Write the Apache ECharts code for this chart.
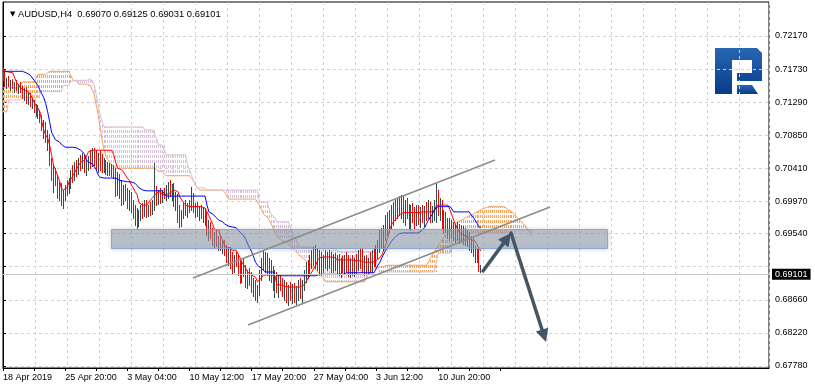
<!DOCTYPE html>
<html><head><meta charset="utf-8">
<script src="https://cdn.jsdelivr.net/npm/echarts@6/dist/echarts.min.js"></script>
<style>html,body{margin:0;padding:0;background:#fff}#c{width:815px;height:390px}</style>
</head><body><div id="c"></div>
<script>
const symbol = 'AUDUSD', timeframe = 'H4';
const xLabels = ['18 Apr 2019','25 Apr 20:00','3 May 04:00','10 May 12:00','17 May 20:00','27 May 04:00','3 Jun 12:00','10 Jun 20:00'];
const labelStep = 32, tickStep = 16;
const yTicks = [0.6778,0.6822,0.6866,0.6910,0.6954,0.6997,0.7041,0.7085,0.7129,0.7173,0.7217];

const opens = [0.7166,
0.7164,0.7153,0.7158,0.7152,0.7156,0.7151,0.7153,0.7148,0.7151,0.7145,
0.7139,0.7145,0.7132,0.7137,0.7127,0.7129,0.7119,0.7123,0.7111,0.7108,
0.7095,0.7100,0.7079,0.7085,0.7049,0.7032,0.7039,0.7023,0.7012,0.7017,
0.6999,0.7007,0.7015,0.7010,0.7023,0.7032,0.7028,0.7041,0.7039,0.7049,
0.7045,0.7055,0.7041,0.7045,0.7052,0.7047,0.7063,0.7052,0.7044,0.7055,
0.7045,0.7041,0.7049,0.7039,0.7045,0.7037,0.7043,0.7035,0.7010,0.7031,
0.7007,0.6999,0.7015,0.7004,0.6992,0.7006,0.6988,0.6980,0.6986,0.6967,
0.6980,0.6988,0.6980,0.6994,0.6983,0.6988,0.6983,0.6994,0.7006,0.6999,
0.7008,0.7002,0.7007,0.7004,0.7012,0.7017,0.7010,0.7015,0.6996,0.7004,
0.6975,0.6970,0.6980,0.6990,0.6983,0.6991,0.6988,0.7006,0.6988,0.6991,
0.6983,0.6986,0.6980,0.6983,0.6970,0.6956,0.6966,0.6954,0.6946,0.6951,
0.6943,0.6946,0.6938,0.6940,0.6930,0.6922,0.6930,0.6912,0.6906,0.6922,
0.6916,0.6903,0.6892,0.6911,0.6903,0.6887,0.6898,0.6892,0.6882,0.6888,
0.6871,0.6877,0.6900,0.6916,0.6911,0.6924,0.6906,0.6912,0.6895,0.6884,
0.6892,0.6882,0.6890,0.6884,0.6877,0.6886,0.6869,0.6879,0.6871,0.6882,
0.6869,0.6877,0.6887,0.6874,0.6884,0.6900,0.6911,0.6903,0.6919,0.6927,
0.6916,0.6932,0.6911,0.6922,0.6906,0.6919,0.6914,0.6924,0.6916,0.6908,
0.6922,0.6912,0.6919,0.6906,0.6916,0.6908,0.6922,0.6908,0.6903,0.6916,
0.6906,0.6916,0.6908,0.6926,0.6914,0.6908,0.6919,0.6906,0.6916,0.6908,
0.6924,0.6916,0.6932,0.6940,0.6951,0.6940,0.6959,0.6972,0.6959,0.6979,
0.6970,0.6990,0.6978,0.6996,0.6983,0.6999,0.6975,0.6992,0.6980,0.6967,
0.6986,0.6975,0.6970,0.6986,0.6972,0.6983,0.6975,0.6986,0.6980,0.6994,
0.6975,0.6986,0.6992,0.7010,0.6986,0.6994,0.6967,0.6975,0.6962,0.6967,
0.6952,0.6964,0.6951,0.6962,0.6951,0.6959,0.6948,0.6956,0.6946,0.6951,
0.6938,0.6946,0.6930,0.6932,0.6919,
0.69070];

const highs = [
0.7174,0.7169,0.7161,0.7164,0.7158,0.7160,0.7156,0.7158,0.7153,0.7156,
0.7151,0.7148,0.7149,0.7143,0.7141,0.7135,0.7132,0.7127,0.7125,0.7119,
0.7112,0.7105,0.7103,0.7092,0.7087,0.7055,0.7045,0.7041,0.7032,0.7023,
0.7021,0.7012,0.7019,0.7025,0.7028,0.7039,0.7045,0.7049,0.7052,0.7055,
0.7059,0.7061,0.7059,0.7052,0.7057,0.7065,0.7068,0.7068,0.7065,0.7061,
0.7065,0.7060,0.7055,0.7052,0.7049,0.7048,0.7047,0.7045,0.7041,0.7036,
0.7033,0.7025,0.7019,0.7020,0.7015,0.7012,0.7010,0.6999,0.6992,0.6988,
0.6986,0.6992,0.6995,0.6999,0.6999,0.6992,0.6996,0.6999,0.7048,0.7017,
0.7012,0.7015,0.7012,0.7015,0.7019,0.7023,0.7025,0.7020,0.7021,0.7010,
0.7007,0.6992,0.6986,0.6995,0.6999,0.6995,0.6999,0.7016,0.7008,0.6995,
0.6996,0.6991,0.6992,0.6988,0.6988,0.6983,0.6972,0.6970,0.6962,0.6956,
0.6959,0.6951,0.6952,0.6946,0.6946,0.6939,0.6935,0.6936,0.6930,0.6926,
0.6930,0.6926,0.6919,0.6916,0.6922,0.6912,0.6906,0.6908,0.6903,0.6895,
0.6892,0.6886,0.6906,0.6922,0.6932,0.6930,0.6928,0.6922,0.6919,0.6911,
0.6906,0.6903,0.6899,0.6900,0.6895,0.6892,0.6890,0.6886,0.6890,0.6887,
0.6888,0.6884,0.6892,0.6895,0.6892,0.6906,0.6916,0.6919,0.6926,0.6932,
0.6936,0.6939,0.6935,0.6932,0.6930,0.6926,0.6932,0.6930,0.6932,0.6930,
0.6927,0.6928,0.6926,0.6927,0.6922,0.6924,0.6926,0.6930,0.6926,0.6922,
0.6926,0.6922,0.6927,0.6932,0.6935,0.6935,0.6924,0.6926,0.6922,0.6930,
0.6932,0.6935,0.6939,0.6946,0.6959,0.6962,0.6966,0.6979,0.6983,0.6986,
0.6992,0.6996,0.6999,0.7002,0.7004,0.7006,0.7004,0.6999,0.7002,0.6994,
0.6992,0.6995,0.6990,0.6992,0.6992,0.6990,0.6992,0.6991,0.6996,0.6999,
0.6996,0.6991,0.6999,0.7021,0.7012,0.7002,0.6999,0.6986,0.6983,0.6975,
0.6975,0.6972,0.6970,0.6967,0.6970,0.6967,0.6966,0.6964,0.6962,0.6959,
0.6956,0.6951,0.6948,0.6938,0.6935,0.6934,0.69125];

const lows = [
0.7158,0.7151,0.7148,0.7151,0.7145,0.7148,0.7143,0.7145,0.7141,0.7143,
0.7135,0.7132,0.7128,0.7127,0.7124,0.7121,0.7116,0.7111,0.7108,0.7103,
0.7092,0.7081,0.7076,0.7065,0.7045,0.7025,0.7010,0.7019,0.7002,0.6999,
0.6992,0.6988,0.6999,0.7006,0.7008,0.7015,0.7023,0.7025,0.7031,0.7033,
0.7039,0.7041,0.7036,0.7032,0.7039,0.7041,0.7044,0.7045,0.7039,0.7036,
0.7039,0.7036,0.7036,0.7033,0.7032,0.7032,0.7031,0.7028,0.7004,0.7006,
0.7002,0.6992,0.6994,0.6999,0.6988,0.6986,0.6983,0.6975,0.6966,0.6962,
0.6964,0.6972,0.6975,0.6978,0.6976,0.6978,0.6979,0.6980,0.6986,0.6992,
0.6994,0.6995,0.6996,0.7002,0.6999,0.7002,0.7004,0.6999,0.6991,0.6986,
0.6970,0.6963,0.6964,0.6975,0.6979,0.6976,0.6983,0.6986,0.6983,0.6976,
0.6978,0.6972,0.6975,0.6970,0.6966,0.6952,0.6946,0.6948,0.6939,0.6935,
0.6938,0.6932,0.6932,0.6928,0.6926,0.6916,0.6912,0.6908,0.6902,0.6903,
0.6911,0.6899,0.6888,0.6890,0.6898,0.6883,0.6882,0.6886,0.6877,0.6871,
0.6866,0.6863,0.6873,0.6892,0.6906,0.6903,0.6899,0.6892,0.6890,0.6879,
0.6870,0.6877,0.6870,0.6879,0.6871,0.6866,0.6863,0.6859,0.6866,0.6862,
0.6863,0.6861,0.6866,0.6869,0.6862,0.6879,0.6890,0.6895,0.6898,0.6908,
0.6912,0.6908,0.6906,0.6899,0.6899,0.6903,0.6908,0.6906,0.6908,0.6903,
0.6903,0.6906,0.6902,0.6899,0.6896,0.6903,0.6900,0.6903,0.6898,0.6896,
0.6899,0.6898,0.6902,0.6906,0.6908,0.6903,0.6899,0.6900,0.6900,0.6903,
0.6903,0.6911,0.6911,0.6922,0.6930,0.6935,0.6932,0.6946,0.6952,0.6956,
0.6962,0.6966,0.6972,0.6975,0.6979,0.6975,0.6970,0.6966,0.6975,0.6962,
0.6959,0.6970,0.6962,0.6966,0.6967,0.6963,0.6970,0.6964,0.6972,0.6975,
0.6970,0.6970,0.6972,0.6970,0.6979,0.6972,0.6962,0.6955,0.6956,0.6948,
0.6946,0.6948,0.6946,0.6943,0.6946,0.6942,0.6943,0.6940,0.6939,0.6938,
0.6932,0.6930,0.6924,0.6916,0.6916,0.6904,0.69031];

const closes = [
0.7164,0.7153,0.7158,0.7152,0.7156,0.7151,0.7153,0.7148,0.7151,0.7145,
0.7139,0.7145,0.7132,0.7137,0.7127,0.7129,0.7119,0.7123,0.7111,0.7108,
0.7095,0.7100,0.7079,0.7085,0.7049,0.7032,0.7039,0.7023,0.7012,0.7017,
0.6999,0.7007,0.7015,0.7010,0.7023,0.7032,0.7028,0.7041,0.7039,0.7049,
0.7045,0.7055,0.7041,0.7045,0.7052,0.7047,0.7063,0.7052,0.7044,0.7055,
0.7045,0.7041,0.7049,0.7039,0.7045,0.7037,0.7043,0.7035,0.7010,0.7031,
0.7007,0.6999,0.7015,0.7004,0.6992,0.7006,0.6988,0.6980,0.6986,0.6967,
0.6980,0.6988,0.6980,0.6994,0.6983,0.6988,0.6983,0.6994,0.7006,0.6999,
0.7008,0.7002,0.7007,0.7004,0.7012,0.7017,0.7010,0.7015,0.6996,0.7004,
0.6975,0.6970,0.6980,0.6990,0.6983,0.6991,0.6988,0.7006,0.6988,0.6991,
0.6983,0.6986,0.6980,0.6983,0.6970,0.6956,0.6966,0.6954,0.6946,0.6951,
0.6943,0.6946,0.6938,0.6940,0.6930,0.6922,0.6930,0.6912,0.6906,0.6922,
0.6916,0.6903,0.6892,0.6911,0.6903,0.6887,0.6898,0.6892,0.6882,0.6888,
0.6871,0.6877,0.6900,0.6916,0.6911,0.6924,0.6906,0.6912,0.6895,0.6884,
0.6892,0.6882,0.6890,0.6884,0.6877,0.6886,0.6869,0.6879,0.6871,0.6882,
0.6869,0.6877,0.6887,0.6874,0.6884,0.6900,0.6911,0.6903,0.6919,0.6927,
0.6916,0.6932,0.6911,0.6922,0.6906,0.6919,0.6914,0.6924,0.6916,0.6908,
0.6922,0.6912,0.6919,0.6906,0.6916,0.6908,0.6922,0.6908,0.6903,0.6916,
0.6906,0.6916,0.6908,0.6926,0.6914,0.6908,0.6919,0.6906,0.6916,0.6908,
0.6924,0.6916,0.6932,0.6940,0.6951,0.6940,0.6959,0.6972,0.6959,0.6979,
0.6970,0.6990,0.6978,0.6996,0.6983,0.6999,0.6975,0.6992,0.6980,0.6967,
0.6986,0.6975,0.6970,0.6986,0.6972,0.6983,0.6975,0.6986,0.6980,0.6994,
0.6975,0.6986,0.6992,0.7010,0.6986,0.6994,0.6967,0.6975,0.6962,0.6967,
0.6952,0.6964,0.6951,0.6962,0.6951,0.6959,0.6948,0.6956,0.6946,0.6951,
0.6938,0.6946,0.6930,0.6932,0.6919,0.6906,0.69101];

const tenkan = [
0.7174,0.7170,0.7169,0.7169,0.7169,0.7168,0.7168,0.7155,0.7155,0.7148,
0.7147,0.7145,0.7144,0.7143,0.7139,0.7135,0.7129,0.7125,0.7121,0.7116,
0.7103,0.7092,0.7085,0.7081,0.7072,0.7059,0.7045,0.7039,0.7032,0.7025,
0.7015,0.7012,0.7012,0.7015,0.7023,0.7025,0.7031,0.7036,0.7041,0.7045,
0.7049,0.7049,0.7052,0.7057,0.7063,0.7063,0.7065,0.7065,0.7065,0.7065,
0.7065,0.7065,0.7065,0.7065,0.7065,0.7065,0.7065,0.7059,0.7049,0.7041,
0.7039,0.7039,0.7036,0.7036,0.7028,0.7025,0.7019,0.7015,0.7010,0.7006,
0.6995,0.6995,0.6992,0.6992,0.6992,0.6992,0.6999,0.7002,0.7004,0.7008,
0.7010,0.7010,0.7006,0.7006,0.7006,0.7007,0.7008,0.7010,0.7012,0.7012,
0.7010,0.7003,0.6999,0.6995,0.6992,0.6990,0.6990,0.6990,0.6990,0.6990,
0.6990,0.6990,0.6990,0.6990,0.6988,0.6983,0.6978,0.6972,0.6966,0.6959,
0.6959,0.6959,0.6951,0.6946,0.6939,0.6936,0.6935,0.6935,0.6932,0.6932,
0.6932,0.6930,0.6922,0.6916,0.6912,0.6910,0.6903,0.6902,0.6899,0.6898,
0.6896,0.6890,0.6888,0.6895,0.6899,0.6899,0.6899,0.6899,0.6899,0.6899,
0.6898,0.6886,0.6886,0.6886,0.6886,0.6884,0.6884,0.6883,0.6883,0.6883,
0.6883,0.6883,0.6883,0.6883,0.6884,0.6886,0.6890,0.6895,0.6899,0.6903,
0.6908,0.6912,0.6919,0.6922,0.6923,0.6923,0.6923,0.6923,0.6923,0.6923,
0.6923,0.6922,0.6919,0.6919,0.6919,0.6919,0.6919,0.6919,0.6919,0.6919,
0.6919,0.6918,0.6918,0.6918,0.6918,0.6916,0.6916,0.6916,0.6916,0.6916,
0.6916,0.6918,0.6918,0.6919,0.6922,0.6926,0.6932,0.6939,0.6948,0.6959,
0.6966,0.6970,0.6972,0.6975,0.6979,0.6980,0.6982,0.6982,0.6982,0.6982,
0.6982,0.6982,0.6982,0.6982,0.6982,0.6983,0.6983,0.6983,0.6983,0.6983,
0.6983,0.6983,0.6983,0.6991,0.6992,0.6992,0.6992,0.6992,0.6992,0.6992,
0.6986,0.6979,0.6972,0.6966,0.6960,0.6956,0.6955,0.6952,0.6951,0.6950,
0.6948,0.6946,0.6946,0.6944,0.6939,0.6935,0.6931];

const kijun = [
0.7170,0.7170,0.7170,0.7170,0.7170,0.7170,0.7170,0.7170,0.7170,0.7170,
0.7170,0.7169,0.7168,0.7166,0.7165,0.7164,0.7158,0.7156,0.7151,0.7145,
0.7140,0.7135,0.7127,0.7116,0.7103,0.7089,0.7084,0.7079,0.7077,0.7076,
0.7073,0.7071,0.7069,0.7069,0.7069,0.7069,0.7069,0.7069,0.7068,0.7067,
0.7065,0.7063,0.7060,0.7052,0.7049,0.7048,0.7047,0.7045,0.7039,0.7032,
0.7029,0.7028,0.7028,0.7028,0.7028,0.7028,0.7028,0.7028,0.7028,0.7027,
0.7025,0.7025,0.7024,0.7024,0.7023,0.7023,0.7023,0.7021,0.7021,0.7019,
0.7015,0.7014,0.7012,0.7012,0.7011,0.7011,0.7011,0.7011,0.7011,0.7011,
0.7011,0.7011,0.7011,0.7007,0.7004,0.7004,0.7004,0.7004,0.7004,0.7004,
0.7004,0.7004,0.7004,0.7004,0.7004,0.7004,0.7004,0.7004,0.7004,0.7004,
0.7004,0.7004,0.7004,0.7004,0.7004,0.6992,0.6983,0.6982,0.6980,0.6978,
0.6975,0.6972,0.6972,0.6970,0.6967,0.6966,0.6964,0.6964,0.6963,0.6963,
0.6962,0.6962,0.6956,0.6954,0.6951,0.6946,0.6940,0.6935,0.6930,0.6923,
0.6916,0.6912,0.6910,0.6908,0.6906,0.6903,0.6903,0.6903,0.6903,0.6903,
0.6903,0.6898,0.6898,0.6898,0.6898,0.6898,0.6898,0.6898,0.6898,0.6898,
0.6898,0.6898,0.6898,0.6898,0.6898,0.6898,0.6898,0.6898,0.6898,0.6898,
0.6898,0.6898,0.6900,0.6900,0.6900,0.6900,0.6900,0.6900,0.6900,0.6900,
0.6900,0.6900,0.6900,0.6900,0.6900,0.6900,0.6902,0.6902,0.6902,0.6902,
0.6902,0.6902,0.6902,0.6902,0.6902,0.6902,0.6902,0.6902,0.6902,0.6902,
0.6902,0.6902,0.6902,0.6912,0.6916,0.6922,0.6927,0.6932,0.6936,0.6940,
0.6944,0.6947,0.6950,0.6952,0.6954,0.6955,0.6955,0.6955,0.6955,0.6955,
0.6955,0.6955,0.6955,0.6955,0.6955,0.6955,0.6959,0.6962,0.6967,0.6972,
0.6976,0.6980,0.6986,0.6988,0.6990,0.6990,0.6990,0.6990,0.6990,0.6990,
0.6990,0.6987,0.6983,0.6983,0.6983,0.6983,0.6983,0.6983,0.6983,0.6983,
0.6983,0.6979,0.6976,0.6974,0.6968,0.6963,0.6962];

const spanA = [
0.7148,0.7148,0.7148,0.7148,0.7148,0.7148,0.7148,0.7148,0.7148,0.7148,
0.7156,0.7156,0.7156,0.7156,0.7156,0.7156,0.7156,0.7156,0.7166,0.7166,
0.7166,0.7166,0.7166,0.7166,0.7170,0.7170,0.7170,0.7170,0.7170,0.7170,
0.7170,0.7170,0.7170,0.7170,0.7170,0.7164,0.7158,0.7158,0.7157,0.7153,
0.7153,0.7153,0.7153,0.7153,0.7151,0.7151,0.7151,0.7139,0.7125,0.7112,
0.7095,0.7079,0.7065,0.7057,0.7052,0.7048,0.7045,0.7043,0.7041,0.7041,
0.7041,0.7041,0.7041,0.7041,0.7041,0.7041,0.7041,0.7041,0.7041,0.7041,
0.7041,0.7041,0.7041,0.7041,0.7041,0.7041,0.7041,0.7041,0.7041,0.7041,
0.7037,0.7037,0.7037,0.7037,0.7031,0.7031,0.7031,0.7031,0.7031,0.7031,
0.7031,0.7031,0.7031,0.7031,0.7031,0.7031,0.7031,0.7031,0.7025,0.7019,
0.7015,0.7012,0.7012,0.7012,0.7012,0.7012,0.7012,0.7012,0.7012,0.7012,
0.7012,0.7012,0.7012,0.7012,0.7012,0.7006,0.7000,0.7000,0.7000,0.7000,
0.7000,0.7000,0.7000,0.7000,0.7000,0.7000,0.7000,0.7000,0.7000,0.7000,
0.7000,0.7000,0.6992,0.6986,0.6980,0.6978,0.6976,0.6972,0.6967,0.6962,
0.6956,0.6951,0.6948,0.6946,0.6944,0.6943,0.6942,0.6940,0.6938,0.6935,
0.6932,0.6930,0.6927,0.6924,0.6923,0.6920,0.6919,0.6916,0.6914,0.6911,
0.6908,0.6906,0.6903,0.6900,0.6898,0.6895,0.6890,0.6890,0.6890,0.6890,
0.6890,0.6890,0.6890,0.6890,0.6890,0.6890,0.6890,0.6890,0.6890,0.6890,
0.6890,0.6890,0.6890,0.6890,0.6890,0.6890,0.6890,0.6895,0.6899,0.6903,
0.6906,0.6907,0.6908,0.6910,0.6910,0.6910,0.6910,0.6912,0.6912,0.6912,
0.6912,0.6912,0.6912,0.6912,0.6912,0.6912,0.6912,0.6912,0.6912,0.6912,
0.6912,0.6912,0.6912,0.6912,0.6912,0.6912,0.6912,0.6912,0.6912,0.6916,
0.6922,0.6926,0.6930,0.6932,0.6938,0.6942,0.6946,0.6950,0.6954,0.6956,
0.6959,0.6962,0.6964,0.6967,0.6970,0.6971,0.6972,0.6974,0.6975,0.6976,
0.6978,0.6979,0.6980,0.6982,0.6983,0.6984,0.6986,0.6987,0.6988,0.6988,
0.6990,0.6990,0.6990,0.6990,0.6990,0.6990,0.6990,0.6990,0.6990,0.6988,
0.6986,0.6984,0.6983,0.6980,0.6978,0.6975,0.6972,0.6970,0.6967,0.6964,
0.6962,0.6956,0.6951];

const spanB = [
0.7116,0.7116,0.7116,0.7132,0.7132,0.7132,0.7132,0.7132,0.7132,0.7132,
0.7135,0.7135,0.7135,0.7135,0.7135,0.7135,0.7135,0.7135,0.7135,0.7135,
0.7143,0.7143,0.7143,0.7143,0.7143,0.7143,0.7143,0.7143,0.7143,0.7143,
0.7143,0.7151,0.7151,0.7151,0.7151,0.7156,0.7158,0.7158,0.7158,0.7158,
0.7158,0.7158,0.7158,0.7158,0.7160,0.7160,0.7160,0.7152,0.7139,0.7125,
0.7112,0.7103,0.7096,0.7096,0.7096,0.7096,0.7096,0.7096,0.7096,0.7096,
0.7096,0.7096,0.7096,0.7096,0.7096,0.7096,0.7096,0.7096,0.7096,0.7096,
0.7096,0.7096,0.7096,0.7092,0.7092,0.7092,0.7092,0.7092,0.7092,0.7081,
0.7072,0.7072,0.7072,0.7072,0.7059,0.7059,0.7059,0.7059,0.7059,0.7059,
0.7059,0.7059,0.7059,0.7059,0.7059,0.7045,0.7039,0.7032,0.7025,0.7019,
0.7015,0.7015,0.7015,0.7015,0.7015,0.7012,0.7012,0.7012,0.7012,0.7012,
0.7012,0.7012,0.7012,0.7012,0.7012,0.7012,0.7012,0.7012,0.7012,0.7012,
0.7012,0.7012,0.7012,0.7012,0.7012,0.7012,0.7012,0.7012,0.7012,0.7012,
0.7012,0.7012,0.6996,0.6996,0.6996,0.6996,0.6996,0.6986,0.6980,0.6978,
0.6975,0.6970,0.6970,0.6970,0.6970,0.6970,0.6970,0.6970,0.6962,0.6956,
0.6951,0.6946,0.6940,0.6936,0.6936,0.6936,0.6936,0.6936,0.6936,0.6936,
0.6934,0.6934,0.6934,0.6934,0.6934,0.6934,0.6934,0.6934,0.6934,0.6934,
0.6934,0.6934,0.6934,0.6930,0.6930,0.6930,0.6930,0.6930,0.6930,0.6930,
0.6930,0.6930,0.6930,0.6930,0.6930,0.6930,0.6930,0.6930,0.6930,0.6930,
0.6930,0.6930,0.6919,0.6908,0.6903,0.6903,0.6903,0.6903,0.6903,0.6903,
0.6903,0.6903,0.6903,0.6903,0.6903,0.6903,0.6903,0.6903,0.6903,0.6903,
0.6903,0.6903,0.6903,0.6903,0.6903,0.6903,0.6903,0.6903,0.6903,0.6903,
0.6903,0.6903,0.6903,0.6903,0.6928,0.6928,0.6928,0.6928,0.6928,0.6928,
0.6928,0.6928,0.6946,0.6946,0.6946,0.6946,0.6946,0.6946,0.6946,0.6955,
0.6955,0.6955,0.6955,0.6955,0.6955,0.6955,0.6955,0.6955,0.6955,0.6955,
0.6955,0.6955,0.6955,0.6955,0.6955,0.6955,0.6955,0.6955,0.6955,0.6955,
0.6959,0.6959,0.6959,0.6959,0.6959,0.6959,0.6959,0.6959,0.6959,0.6959,
0.6959,0.6959,0.6959];

// drawn objects, anchored at [bar index, price]
const zone = [[55.6, 0.69603], [310.9, 0.69350]];
const channelUpper = [[97.8, 0.68951], [253.3, 0.70520]];
const channelLower = [[126.1, 0.68325], [281.6, 0.69895]];
const arrowUp = [[247.1, 0.69044], [261.5, 0.69549]];
const arrowDown = [[261.5, 0.69549], [279.5, 0.68099]];

const FONT = 'Liberation Sans';
const X_MAX = 394.3;          // bars visible across the plot (incl. right shift)
const PLOT_W = 766;           // plot width in px, used by the pixel-spaced vertical grid
const GRID_PX = 32;           // terminal draws vertical grid every 32 px
const n = closes.length, last = n - 1;
const barData = closes.map((c, i) => [i, opens[i], highs[i], lows[i], c]);
const cloudData = spanA.map((a, i) => [i, a, spanB[i]]);
const asLine = arr => arr.map((v, i) => [i, v]);
const xTickValues = [];
for (let v = 0; v <= xLabels.length * labelStep; v += tickStep) xTickValues.push(v);
const xLabelValues = xLabels.map((_, k) => k * labelStep);

function renderBar(params, api) {
  const i = api.value(0), o = api.value(1), h = api.value(2), l = api.value(3), c = api.value(4);
  const ph = api.coord([i, h]), pl = api.coord([i, l]);
  const x = Math.floor(ph[0]) + 0.5;
  return { type: 'line', shape: { x1: x, y1: Math.round(ph[1]), x2: x, y2: Math.round(pl[1]) + 1 },
    style: { stroke: c >= o ? '#2F4F4F' : '#FF0000', lineWidth: 1 } };
}
function renderCloud(params, api) {
  const i = api.value(0), a = api.value(1), b = api.value(2);
  if (a === b) return null;
  const pa = api.coord([i, a]), pb = api.coord([i, b]);
  const x = Math.floor(pa[0]) + 0.5;
  const y1 = Math.round(Math.min(pa[1], pb[1])), y2 = Math.round(Math.max(pa[1], pb[1]));
  return { type: 'line', shape: { x1: x, y1: y1, x2: x, y2: y2 },
    style: { stroke: a > b ? '#F4A460' : '#D8BFD8', lineWidth: 1, lineDash: [3, 2], lineDashOffset: y1 % 5 } };
}
function arrowEls(p0, p1, color, w, hl, hw) {
  const dx = p1[0] - p0[0], dy = p1[1] - p0[1], len = Math.hypot(dx, dy), ux = dx / len, uy = dy / len;
  const bx = p1[0] - ux * hl, by = p1[1] - uy * hl;
  return [
    { type: 'line', shape: { x1: p0[0], y1: p0[1], x2: bx + ux * 2, y2: by + uy * 2 }, style: { stroke: color, lineWidth: w, lineCap: 'round' } },
    { type: 'polygon', shape: { points: [[p1[0], p1[1]], [bx - uy * hw, by + ux * hw], [bx + uy * hw, by - ux * hw]] }, style: { fill: color } }
  ];
}
function renderObjects(params, api) {
  const z0 = api.coord(zone[0]), z1 = api.coord(zone[1]);
  const cu0 = api.coord(channelUpper[0]), cu1 = api.coord(channelUpper[1]);
  const cl0 = api.coord(channelLower[0]), cl1 = api.coord(channelLower[1]);
  const au0 = api.coord(arrowUp[0]), au1 = api.coord(arrowUp[1]);
  const ad0 = api.coord(arrowDown[0]), ad1 = api.coord(arrowDown[1]);
  const col = '#445566';
  return { type: 'group', children: [
    { type: 'rect', shape: { x: Math.round(z0[0]) + 0.5, y: Math.round(z0[1]) + 0.5, width: Math.round(z1[0] - z0[0]), height: Math.round(z1[1] - z0[1]) },
      style: { fill: 'rgba(150,163,178,0.52)', stroke: 'rgba(125,160,215,0.85)', lineWidth: 1, shadowBlur: 4, shadowColor: 'rgba(0,0,0,0.25)' } },
    { type: 'line', shape: { x1: cu0[0], y1: cu0[1], x2: cu1[0], y2: cu1[1] }, style: { stroke: '#8c8c8c', lineWidth: 1.5 } },
    { type: 'line', shape: { x1: cl0[0], y1: cl0[1], x2: cl1[0], y2: cl1[1] }, style: { stroke: '#8c8c8c', lineWidth: 1.5 } },
    ...arrowEls(au0, au1, col, 3.5, 13, 6.5),
    ...arrowEls(ad0, ad1, col, 3.5, 13, 6.5)
  ] };
}

const logoFill = { type: 'linear', x: 0, y: 0, x2: 0, y2: 1, colorStops: [{ offset: 0, color: '#2667b4' }, { offset: 1, color: '#0a3a88' }] };

const titleText = '{t|\u25BC} ' + symbol + ',' + timeframe + '  ' +
  [opens[last], highs[last], lows[last], closes[last]].map(v => v.toFixed(5)).join(' ');

const option = {
  animation: false,
  backgroundColor: '#ffffff',
  title: { text: titleText, left: 5, top: 5,
    textStyle: { fontSize: 9.4, fontWeight: 'normal', fontFamily: FONT, color: '#000',
      rich: { t: { fontSize: 7, fontFamily: 'DejaVu Sans', color: '#000' } } } },
  grid: { left: 3, right: 46, top: 2, bottom: 22, show: true, borderColor: '#000', borderWidth: 1 },
  xAxis: [{
    type: 'value', min: 0, max: X_MAX,
    axisLine: { show: true, lineStyle: { color: '#000' } },
    axisTick: { show: true, length: 3, customValues: xTickValues, lineStyle: { color: '#000' } },
    splitLine: { show: false },
    axisLabel: { show: true, customValues: xLabelValues, align: 'left', margin: 5, fontSize: 9, fontFamily: FONT, color: '#000',
      formatter: v => xLabels[Math.round(v / labelStep)] }
  }, {
    type: 'value', min: 0, max: PLOT_W, interval: GRID_PX, position: 'bottom',
    axisLine: { show: false }, axisTick: { show: false }, axisLabel: { show: false },
    splitLine: { show: true, lineStyle: { color: '#d2d2d2', type: [3, 3] } }
  }],
  yAxis: {
    type: 'value', position: 'right', min: 0.67753, max: 0.72622,
    axisLine: { show: true, lineStyle: { color: '#000' } },
    axisTick: { show: true, length: 3, customValues: yTicks, lineStyle: { color: '#000' } },
    splitLine: { show: true, lineStyle: { color: '#d2d2d2', type: [3, 3] } },
    axisLabel: { customValues: yTicks.filter(v => Math.abs(v - closes[last]) > 0.001),
      formatter: v => v.toFixed(5), fontSize: 9, fontFamily: FONT, color: '#000', margin: 6 }
  },
  graphic: [{ type: 'group', left: 715, top: 48, silent: true, children: [
    { type: 'polygon', shape: { points: [[0,0],[42,0],[47,5],[47,33],[22,33],[22,25],[37,25],[37,12],[17,12],[17,46],[0,46]] }, style: { fill: logoFill } },
    { type: 'polygon', shape: { points: [[22,37],[37,37],[43,46],[22,46]] }, style: { fill: logoFill } }
  ] }],
  series: [
    { type: 'custom', renderItem: renderCloud, data: cloudData, encode: { x: 0, y: [1, 2] }, clip: true, z: 1, silent: true },
    { type: 'line', data: asLine(spanA), symbol: 'none', lineStyle: { color: '#F4A460', width: 1 }, z: 2, silent: true },
    { type: 'line', data: asLine(spanB), symbol: 'none', lineStyle: { color: '#D8BFD8', width: 1 }, z: 2, silent: true },
    { type: 'custom', renderItem: renderBar, data: barData, encode: { x: 0, y: [1, 2, 3, 4] }, clip: true, z: 3, silent: true,
      markLine: { silent: true, symbol: 'none', animation: false,
        lineStyle: { color: '#c8c8c8', type: 'solid', width: 1 },
        label: { position: 'end', formatter: closes[last].toFixed(5), color: '#fff', backgroundColor: '#000',
          padding: [1, 3, 1, 3], fontSize: 9, lineHeight: 9, fontFamily: FONT, distance: 3 },
        data: [{ yAxis: closes[last] }] } },
    { type: 'line', data: asLine(tenkan), symbol: 'none', lineStyle: { color: '#FF0000', width: 1 }, z: 4, silent: true },
    { type: 'line', data: asLine(kijun), symbol: 'none', lineStyle: { color: '#0000FF', width: 1 }, z: 4, silent: true },
    { type: 'custom', renderItem: renderObjects, data: [[0, closes[last]]], encode: { x: 0, y: 1 }, clip: true, z: 10, silent: true }
  ]
};
const chart = echarts.init(document.getElementById('c'), null, { renderer: 'canvas' });
chart.setOption(option);
</script></body></html>
